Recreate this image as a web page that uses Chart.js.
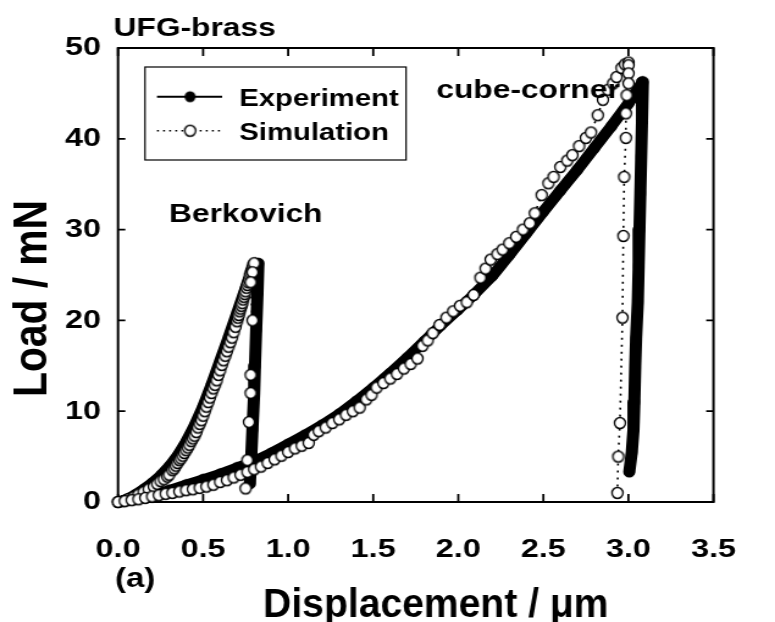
<!DOCTYPE html>
<html>
<head>
<meta charset="utf-8">
<script src="https://cdn.jsdelivr.net/npm/chart.js@4.4.0/dist/chart.umd.min.js"></script>
<style>
  html, body { margin: 0; padding: 0; background: #fff; overflow: hidden; }
  /* the original figure is stretched sideways, so draw narrow and stretch */
  #wrap { position: absolute; left: 0; top: 0; width: 635px; height: 622px;
          transform: scaleX(1.2205); transform-origin: 0 0; }
</style>
</head>
<body>
<div id="wrap"><canvas id="chart"></canvas></div>
<script>
// Displacement (um), Load (mN)
const berkExpLoad = [[0,0],[0.05,0.3],[0.10,0.8],[0.15,1.4],[0.20,2.1],[0.25,2.9],[0.30,3.9],[0.35,5.1],[0.40,6.6],[0.45,8.4],[0.50,10.5],[0.55,12.9],[0.60,15.5],[0.65,18.1],[0.70,20.8],[0.75,23.5],[0.80,25.9],[0.825,26.3]];
const berkExpUnload = [[0.82,23.0],[0.812,19.0],[0.805,15.0],[0.80,12.0],[0.79,8.0],[0.783,5.0],[0.775,2.0]];
const cubeExpLoad = [[0,0],[0.1,0.3],[0.2,0.8],[0.3,1.3],[0.4,1.9],[0.5,2.5],[0.6,3.1],[0.7,3.8],[0.8,4.5],[0.9,5.4],[1.0,6.4],[1.1,7.4],[1.2,8.5],[1.3,9.7],[1.4,11.1],[1.5,12.6],[1.6,14.2],[1.7,15.9],[1.8,17.7],[1.9,19.5],[2.0,21.2],[2.1,23.0],[2.2,24.9],[2.3,27.2],[2.4,29.6],[2.5,32.0],[2.6,34.3],[2.7,36.6],[2.8,39.0],[2.9,41.4],[3.0,43.9],[3.085,46.3]];
const cubeExpUnload = [[3.08,42],[3.075,38],[3.07,34],[3.065,30],[3.06,26],[3.055,22],[3.045,18],[3.04,15],[3.035,11],[3.03,8],[3.02,5.5],[3.005,3.3]];

const berkSimLoad = [[0,0],[0.03,0.1],[0.06,0.3],[0.09,0.5],[0.12,0.8],[0.15,1.1],[0.18,1.4],[0.21,1.7],[0.23,2.0],[0.25,2.3],[0.27,2.5],[0.29,2.8],[0.30,3.0],[0.32,3.5],[0.33,3.7],[0.34,4.0],[0.35,4.3],[0.36,4.6],[0.37,4.8],[0.38,5.1],[0.39,5.4],[0.40,5.7],[0.41,6.0],[0.42,6.3],[0.43,6.7],[0.44,7.0],[0.45,7.3],[0.46,7.7],[0.47,8.2],[0.48,8.6],[0.49,9.0],[0.50,9.5],[0.51,10.0],[0.52,10.5],[0.53,11.0],[0.54,11.5],[0.55,12.0],[0.56,12.5],[0.57,12.9],[0.58,13.4],[0.59,14.0],[0.60,14.5],[0.61,15.1],[0.62,15.6],[0.63,16.1],[0.64,16.6],[0.65,17.1],[0.66,17.6],[0.67,18.1],[0.68,18.7],[0.69,19.3],[0.70,19.9],[0.705,20.3],[0.71,20.6],[0.715,21.0],[0.72,21.3],[0.725,21.6],[0.73,21.9],[0.735,22.3],[0.74,22.6],[0.745,22.9],[0.75,23.2],[0.755,23.6],[0.76,23.9],[0.765,24.2],[0.77,24.5],[0.775,24.9],[0.78,25.2],[0.785,25.5],[0.79,25.8],[0.795,26.1],[0.80,26.3]];
const berkSimUnload = [[0.79,25.3],[0.78,24.2],[0.79,20.0],[0.78,14.0],[0.78,12.0],[0.77,8.8],[0.76,4.6],[0.76,3.2],[0.75,1.5]];
const cubeSimLoad = [[0,0],[0.04,0.1],[0.08,0.2],[0.12,0.3],[0.16,0.45],[0.20,0.6],[0.24,0.75],[0.28,0.9],[0.32,1.0],[0.36,1.15],[0.40,1.3],[0.44,1.4],[0.48,1.55],[0.52,1.7],[0.56,1.9],[0.60,2.2],[0.64,2.4],[0.68,2.7],[0.72,3.0],[0.76,3.3],[0.80,3.6],[0.84,3.9],[0.88,4.3],[0.92,4.7],[0.96,5.1],[1.00,5.5],[1.04,5.9],[1.08,6.2],[1.12,6.5],[1.15,7.4],[1.18,7.8],[1.22,8.2],[1.26,8.7],[1.30,9.1],[1.34,9.6],[1.38,10.0],[1.42,10.4],[1.46,11.3],[1.49,11.8],[1.52,12.6],[1.56,13.1],[1.60,13.6],[1.64,14.1],[1.68,14.7],[1.72,15.2],[1.76,15.8],[1.79,17.2],[1.82,17.8],[1.85,18.6],[1.89,19.5],[1.93,20.3],[1.97,21.0],[2.01,21.6],[2.05,22.0],[2.09,22.8],[2.13,24.7],[2.16,25.7],[2.19,26.7],[2.23,27.3],[2.26,27.8],[2.30,28.5],[2.34,29.2],[2.38,30.0],[2.42,30.7],[2.45,31.8],[2.49,33.8],[2.53,35.1],[2.56,35.8],[2.60,36.9],[2.64,37.6],[2.67,38.2],[2.71,39.2],[2.75,40.1],[2.78,40.7],[2.82,42.6],[2.85,44.3],[2.88,45.4],[2.91,46.1],[2.93,46.8],[2.96,47.8],[2.98,48.2],[3.00,48.4]];
const cubeSimUnload = [[3.0,48.1],[3.0,47.2],[3.0,46.1],[2.99,44.8],[2.985,42.8],[2.985,40.1],[2.975,35.8],[2.97,29.3],[2.965,20.3],[2.95,8.7],[2.94,5.0],[2.935,1.0]];

const xTicks = [0, 0.5, 1.0, 1.5, 2.0, 2.5, 3.0, 3.5];
const yTicks = [0, 10, 20, 30, 40, 50];

const S = 775 / 635;
const FONT = "'Liberation Sans', Arial, Helvetica, sans-serif";

// round markers once the canvas is stretched
function marker(r, filled) {
    const c = document.createElement('canvas');
    c.width = Math.ceil(2 * r / S) + 3;
    c.height = Math.ceil(2 * r) + 3;
    const g = c.getContext('2d');
    g.translate(c.width / 2, c.height / 2);
    g.scale(1 / S, 1);
    g.beginPath();
    g.arc(0, 0, filled ? r : r - 0.8, 0, Math.PI * 2);
    g.fillStyle = filled ? '#000' : '#fff';
    g.fill();
    if (!filled) {
        g.lineWidth = 1.6;
        g.strokeStyle = '#000';
        g.stroke();
    }
    return c;
}
const dotFilled = marker(5.5, true);
const dotOpen = marker(6.3, false);

const pts = arr => arr.map(([x, y]) => ({ x, y }));
const gap = arr => [{ x: arr[arr.length - 1][0], y: null }];

const expData = [...pts(berkExpLoad), ...pts(berkExpUnload), ...gap(berkExpUnload), ...pts(cubeExpLoad), ...pts(cubeExpUnload)];
const simData = [...pts(berkSimLoad), ...pts(berkSimUnload), ...gap(berkSimUnload), ...pts(cubeSimLoad), ...pts(cubeSimUnload)];

function fitText(ctx, text, x, y, width, angle) {
    const w = ctx.measureText(text).width;
    ctx.save();
    ctx.translate(x, y);
    ctx.rotate(angle || 0);
    ctx.scale(width / w, 1);
    ctx.fillText(text, 0, 0);
    ctx.restore();
}

const framePlugin = {
    id: 'frame',
    beforeDatasetsDraw(chart) {
        const { ctx, chartArea: a, scales: { x, y } } = chart;
        ctx.save();
        ctx.strokeStyle = '#000';
        ctx.lineWidth = 2;
        ctx.strokeRect(a.left, a.top, a.right - a.left, a.bottom - a.top);
        ctx.lineWidth = 1.8;
        ctx.beginPath();
        xTicks.forEach(v => {
            const px = x.getPixelForValue(v);
            ctx.moveTo(px, a.bottom); ctx.lineTo(px, a.bottom - 8);
            ctx.moveTo(px, a.top); ctx.lineTo(px, a.top + 8);
        });
        yTicks.forEach(v => {
            const py = y.getPixelForValue(v);
            ctx.moveTo(a.left, py); ctx.lineTo(a.left + 6, py);
            ctx.moveTo(a.right, py); ctx.lineTo(a.right - 6, py);
        });
        ctx.stroke();
        ctx.restore();
    },
    afterDraw(chart) {
        const ctx = chart.ctx;
        ctx.save();
        ctx.fillStyle = '#000';
        ctx.textBaseline = 'alphabetic';
        ctx.textAlign = 'left';
        ctx.font = 'bold 26px ' + FONT;
        ctx.fillText('UFG-brass', 93, 35.5);
        ctx.fillText('Berkovich', 138.5, 221.5);
        ctx.fillText('cube-corner', 357.5, 97.5);
        ctx.font = 'bold 27px ' + FONT;
        ctx.fillText('(a)', 94.2, 587);

        // axis titles
        ctx.font = 'bold 40px ' + FONT;
        fitText(ctx, 'Displacement / \u03bcm', 215.6, 617, 283);
        ctx.font = 'bold 38px ' + FONT;
        ctx.textAlign = 'center';
        ctx.textBaseline = 'middle';
        fitText(ctx, 'Load / mN', 27.4, 298.5, 197, -Math.PI / 2);

        // legend box
        ctx.lineWidth = 1.2;
        ctx.strokeStyle = '#000';
        ctx.strokeRect(118.8, 67, 213.9, 93);
        ctx.lineWidth = 2;
        ctx.beginPath();
        ctx.moveTo(128.6, 96.7); ctx.lineTo(182, 96.7);
        ctx.stroke();
        ctx.drawImage(dotFilled, 155.7 - dotFilled.width / 2, 96.7 - dotFilled.height / 2);
        ctx.lineWidth = 1.6;
        ctx.setLineDash([1.6, 3.4]);
        ctx.beginPath();
        ctx.moveTo(128.6, 130.7); ctx.lineTo(182, 130.7);
        ctx.stroke();
        ctx.setLineDash([]);
        ctx.drawImage(dotOpen, 155.7 - dotOpen.width / 2, 130.7 - dotOpen.height / 2);
        ctx.font = 'bold 24px ' + FONT;
        ctx.textAlign = 'left';
        ctx.textBaseline = 'alphabetic';
        ctx.fillText('Experiment', 196, 105.5);
        ctx.fillText('Simulation', 196, 139.5);
        ctx.restore();
    }
};

const tickFont = { family: FONT, size: 26.5, weight: 'bold' };

new Chart(document.getElementById('chart'), {
    type: 'scatter',
    data: {
        datasets: [{
            label: 'Simulation',
            data: simData,
            showLine: true,
            borderColor: '#000',
            borderWidth: 1.6,
            borderDash: [2, 5],
            pointStyle: dotOpen,
            pointRadius: 6,
            spanGaps: false,
            clip: false,
            order: 0
        }, {
            label: 'Experiment',
            data: expData,
            showLine: true,
            borderColor: '#000',
            borderWidth: 10,
            borderJoinStyle: 'round',
            borderCapStyle: 'round',
            pointStyle: dotFilled,
            pointRadius: 5.5,
            spanGaps: false,
            clip: false,
            order: 1
        }]
    },
    options: {
        responsive: true,
        maintainAspectRatio: false,
        animation: false,
        events: [],
        layout: { padding: { top: 48, right: 20.5, bottom: 0, left: 0 } },
        plugins: { legend: { display: false }, tooltip: { enabled: false } },
        scales: {
            x: {
                type: 'linear', min: 0, max: 3.5,
                afterBuildTicks: s => { s.ticks = xTicks.map(v => ({ value: v })); },
                afterFit: s => { s.height = 120; },
                grid: { display: false, drawTicks: false },
                border: { display: false },
                ticks: { color: '#000', font: tickFont, padding: 32, maxRotation: 0, autoSkip: false,
                         callback: v => v.toFixed(1) }
            },
            y: {
                type: 'linear', min: 0, max: 50,
                afterBuildTicks: s => { s.ticks = yTicks.map(v => ({ value: v })); },
                afterFit: s => { s.width = 96.7; },
                grid: { display: false, drawTicks: false },
                border: { display: false },
                ticks: { color: '#000', font: tickFont, padding: 14, callback: v => String(v) }
            }
        }
    },
    plugins: [framePlugin]
});
</script>
</body>
</html>
